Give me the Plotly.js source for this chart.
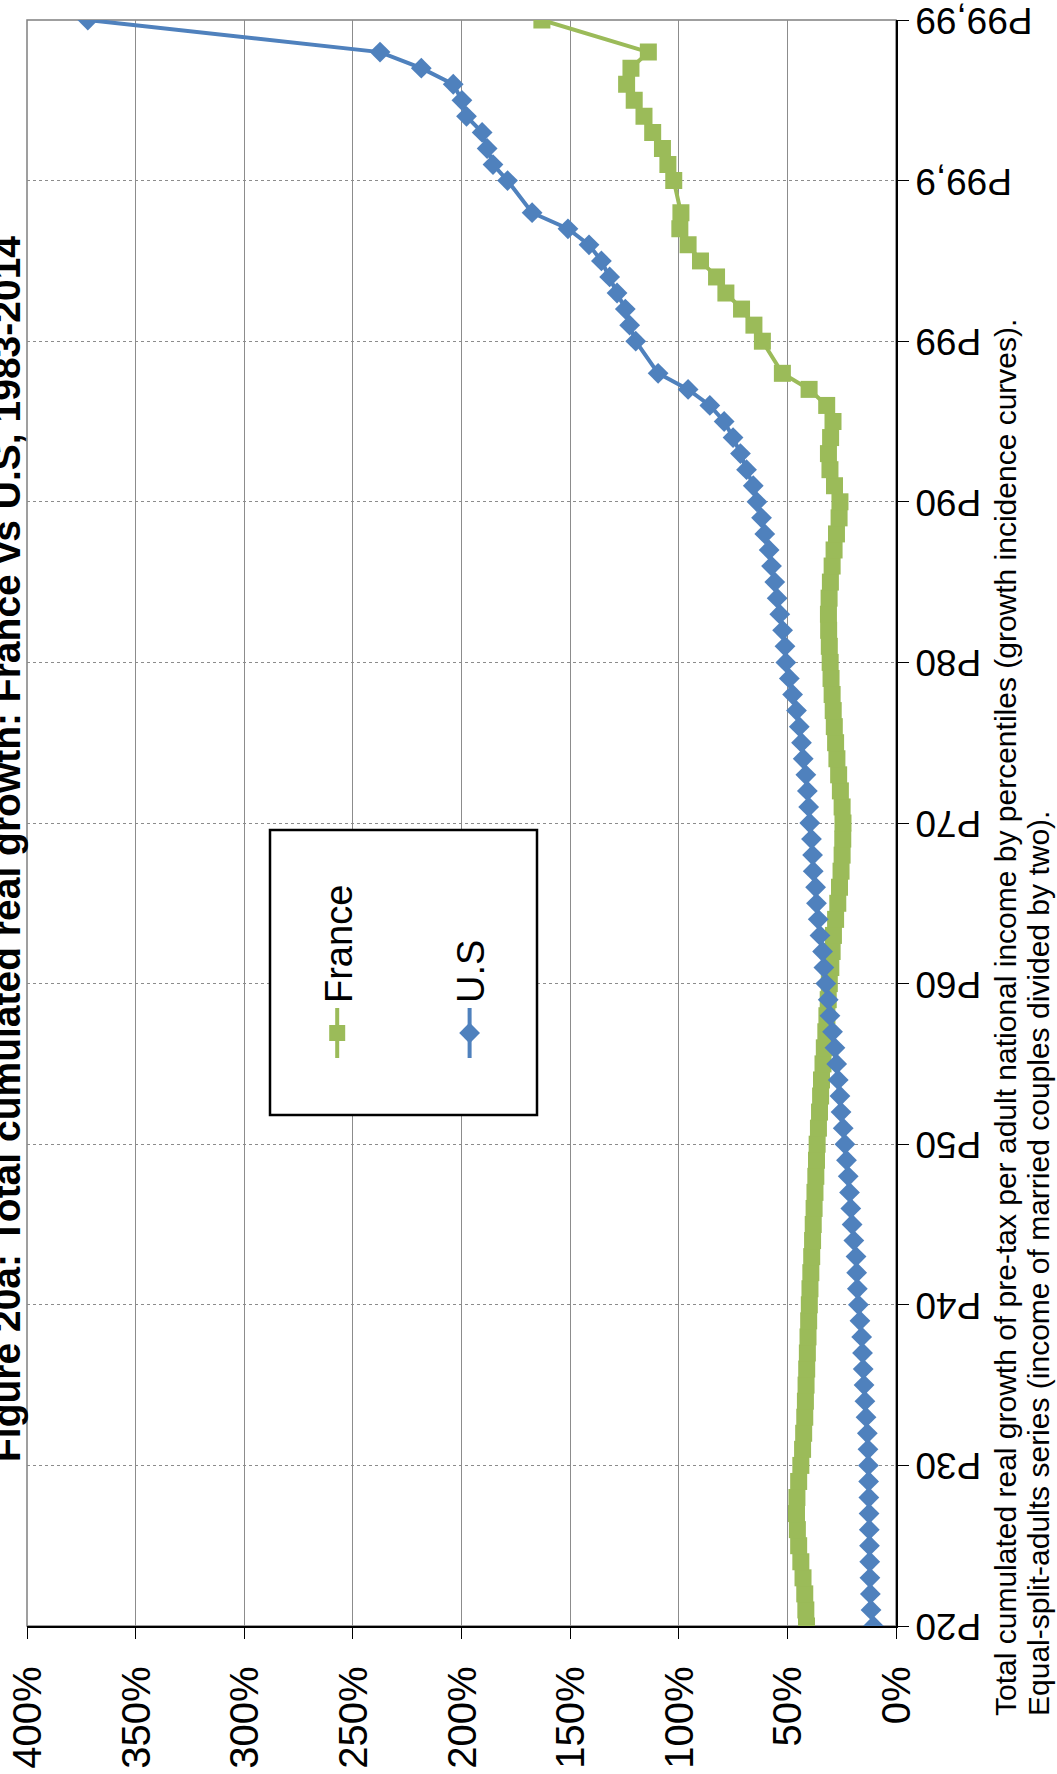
<!DOCTYPE html>
<html>
<head>
<meta charset="utf-8">
<script src="https://cdn.plot.ly/plotly-3.0.1.min.js"></script>
<style>
html, body { margin:0; padding:0; width:1057px; height:1774px; overflow:hidden; background:#ffffff; }
#chart { position:absolute; left:0; top:1774px; width:1774px; height:1057px; transform-origin:0 0; transform:rotate(-90deg); }
</style>
</head>
<body>
<div id="chart"></div>
<script>
// Percentile categories (gap entries carry no data)
const categories = [
  "P20","P21","P22","P23","P24","P25","P26","P27","P28","P29",
  "P30","P31","P32","P33","P34","P35","P36","P37","P38","P39",
  "P40","P41","P42","P43","P44","P45","P46","P47","P48","P49",
  "P50","P51","P52","P53","P54","P55","P56","P57","P58","P59",
  "P60","P61","P62","P63","P64","P65","P66","P67","P68","P69",
  "P70","P71","P72","P73","P74","P75","P76","P77","P78","P79",
  "P80","P81","P82","P83","P84","P85","P86","P87","P88","P89",
  "P90","P91","P92","P93","P94","P95","P96","P97","P98","P98-P99",
  "P99","P99,1","P99,2","P99,3","P99,4","P99,5","P99,6","P99,7","P99,8","P99,8-P99,9",
  "P99,9","P99,91","P99,92","P99,93","P99,94","P99,95","P99,96","P99,97","P99,98","P99,98-P99,99",
  "P99,99"
];

// Total cumulated real growth 1983-2014 (%)
const franceGrowth = [
  41.2, 41.5, 42.0, 42.8, 43.8, 44.8, 45.4, 45.8, 45.6, 44.8,
  43.8, 43.0, 42.5, 42.0, 41.7, 41.4, 41.1, 40.8, 40.5, 40.2,
  39.9, 39.6, 39.2, 38.8, 38.4, 38.1, 37.7, 37.3, 36.9, 36.6,
  36.3, 35.7, 35.2, 34.7, 34.3, 33.6, 33.0, 32.3, 31.8, 31.2,
  30.7, 30.0, 29.4, 28.8, 27.8, 26.8, 26.0, 25.3, 24.8, 24.5,
  24.4, 24.8, 25.6, 26.4, 27.2, 27.8, 28.4, 28.9, 29.4, 29.9,
  30.3, 30.7, 31.0, 31.1, 30.8, 30.2, 29.4, 28.5, 27.4, 26.2,
  25.8, 28.3, 30.4, 31.1, 30.1, 29.0, 31.9, 40.0, 52.3, null,
  61.5, 65.4, 71.1, 78.3, 82.6, 90.0, 95.7, 99.5, 99.0, null,
  102.3, 105.0, 107.5, 112.0, 116.0, 120.5, 124.0, 122.0, 114.0, null,
  163.0
];

const usGrowth = [
  10.4, 11.5, 11.8, 12.0, 12.1, 12.2, 12.3, 12.4, 12.5, 12.6,
  12.7, 12.9, 13.2, 13.8, 14.3, 14.7, 15.1, 15.4, 15.8, 16.6,
  17.3, 17.8, 18.1, 18.4, 19.4, 20.2, 20.8, 21.4, 22.0, 22.8,
  23.5, 24.3, 25.3, 25.8, 26.6, 27.3, 28.1, 29.2, 30.4, 31.2,
  32.3, 33.2, 33.8, 35.0, 35.8, 36.6, 37.0, 38.1, 38.4, 38.9,
  39.7, 40.2, 40.8, 41.5, 42.7, 43.5, 44.5, 45.8, 47.6, 49.1,
  50.7, 51.1, 52.2, 53.5, 54.7, 55.8, 57.3, 58.4, 60.4, 61.9,
  64.0, 65.7, 68.8, 71.6, 75.0, 79.1, 85.7, 95.7, 109.5, null,
  119.8, 122.6, 124.6, 128.4, 131.8, 135.6, 141.3, 151.0, 167.5, null,
  178.8, 185.5, 188.2, 190.5, 197.7, 199.8, 203.8, 218.5, 237.5, null,
  372.0
];

const tickLabels = ["P20","P30","P40","P50","P60","P70","P80","P90","P99","P99,9","P99,99"];
const seriesNames = ["France", "U.S"];
const titleText = "Figure 20a: Total cumulated real growth: France vs U.S, 1983-2014";
const noteLines = [
  "Total cumulated real growth of pre-tax per adult national income by percentiles (growth incidence curves).",
  "Equal-split-adults series (income of married couples divided by two)."
];

const FONT = 'Arial, "Liberation Sans", sans-serif';
const W = 1774, H = 1057;
const M = {l:148, r:20, t:27, b:161};
const pw = W - M.l - M.r, ph = H - M.t - M.b;
const px = u => (u - M.l) / pw;
const py = v => 1 - (v - M.t) / ph;

const traces = [
  {
    x: categories, y: franceGrowth, name: seriesNames[0], type: 'scatter', mode: 'lines+markers',
    legendgroup: 'fr', connectgaps: true,
    line: {color: '#9BBB59', width: 4},
    marker: {symbol: 'square', size: 17, color: '#9BBB59'}
  },
  {
    x: categories, y: usGrowth, name: seriesNames[1], type: 'scatter', mode: 'lines+markers',
    legendgroup: 'us', connectgaps: true,
    line: {color: '#4F81BD', width: 4},
    marker: {symbol: 'diamond', size: 16, color: '#4F81BD'}
  }
];

const layout = {
  width: W, height: H, autosize: false,
  margin: Object.assign({autoexpand: false}, M),
  paper_bgcolor: '#ffffff', plot_bgcolor: '#ffffff',
  font: {family: FONT, color: '#000000'},
  title: {
    text: titleText,
    font: {family: FONT, size: 39, weight: 'bold', color: '#000000'},
    xref: 'container', yref: 'container',
    x: 925 / W, xanchor: 'center',
    y: 1 - 6.8 / H, yanchor: 'middle'
  },
  xaxis: {
    type: 'category', categoryorder: 'array', categoryarray: categories,
    range: [0, categories.length - 1],
    tickmode: 'array', tickvals: tickLabels, ticktext: tickLabels,
    tickangle: -90, tickfont: {family: FONT, size: 37, color: '#000'},
    ticks: 'outside', ticklen: 11, tickwidth: 1, tickcolor: '#000',
    ticklabelstandoff: -8,
    showline: true, linecolor: '#000', linewidth: 1.5,
    showgrid: true, gridcolor: '#8c8c8c', gridwidth: 1, griddash: 'dot',
    zeroline: false, fixedrange: true, automargin: false
  },
  yaxis: {
    range: [0, 400], tick0: 0, dtick: 50, ticksuffix: '%',
    tickfont: {family: FONT, size: 40, color: '#000'},
    ticks: 'outside', ticklen: 11, tickwidth: 1, tickcolor: '#000',
    ticklabelstandoff: 20,
    showline: true, linecolor: '#000', linewidth: 1.5,
    showgrid: true, gridcolor: '#8c8c8c', gridwidth: 1,
    zeroline: false, fixedrange: true, automargin: false
  },
  showlegend: true,
  legend: {
    xref: 'paper', yref: 'paper',
    x: px(711), xanchor: 'left', y: py(306), yanchor: 'top',
    font: {family: FONT, size: 38, color: '#000'},
    bgcolor: 'rgba(0,0,0,0)', borderwidth: 0,
    itemwidth: 50,
    traceorder: 'grouped', tracegroupgap: 80
  },
  shapes: [
    {type: 'rect', xref: 'paper', yref: 'paper', x0: 0, x1: 1, y0: 0, y1: 1,
     line: {color: '#808080', width: 1.5}, layer: 'below'},
    {type: 'rect', xref: 'paper', yref: 'paper',
     x0: px(659), x1: px(944), y0: py(537), y1: py(270),
     line: {color: '#000000', width: 2.5}, fillcolor: '#ffffff', layer: 'above'}
  ],
  annotations: [
    {text: noteLines[0], xref: 'paper', yref: 'paper', x: px(56), y: py(1005),
     xanchor: 'left', yanchor: 'middle', showarrow: false, align: 'left',
     font: {family: FONT, size: 30, color: '#000'}},
    {text: noteLines[1], xref: 'paper', yref: 'paper', x: px(56), y: py(1038),
     xanchor: 'left', yanchor: 'middle', showarrow: false, align: 'left',
     font: {family: FONT, size: 30, color: '#000'}}
  ]
};

Plotly.newPlot('chart', traces, layout, {displayModeBar: false, staticPlot: true});
</script>
</body>
</html>
